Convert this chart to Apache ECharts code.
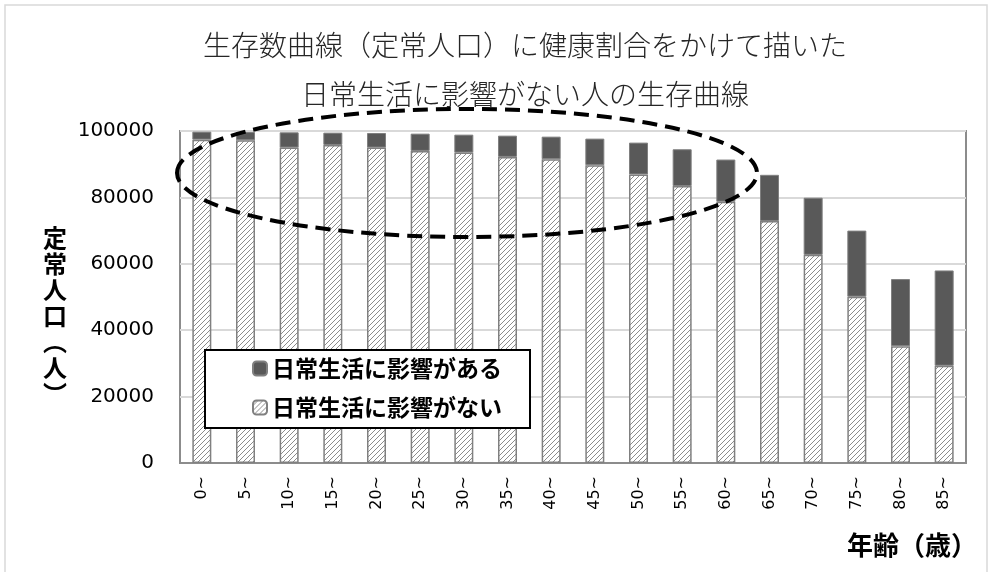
<!DOCTYPE html>
<html>
<head>
<meta charset="utf-8">
<script src="https://cdn.jsdelivr.net/npm/echarts@6/dist/echarts.min.js"></script>
<style>
  html, body { margin: 0; padding: 0; background: #fff; }
  #main { width: 990px; height: 572px; }
</style>
</head>
<body>
<div id="main"></div>
<script>
// 年齢階級
var ages = ["0~", "5~", "10~", "15~", "20~", "25~", "30~", "35~", "40~",
  "45~", "50~", "55~", "60~", "65~", "70~", "75~", "80~", "85~"];
// 定常人口（合計）
var totalPop = [99800, 99700, 99600, 99500, 99400, 99200, 98900, 98600, 98300,
  97700, 96500, 94500, 91400, 86800, 79900, 70000, 55400, 58000];
// 日常生活に影響がない人
var healthyPop = [97400, 97200, 95000, 95800, 95000, 94000, 93500, 92200, 91500,
  89700, 86900, 83400, 78700, 72900, 62700, 50100, 35200, 29300];
// 日常生活に影響がある人 = 合計 - 影響がない
var affectedPop = totalPop.map(function (v, i) { return v - healthyPop[i]; });

var yTicks = [0, 20000, 40000, 60000, 80000, 100000];

// 斜線パターン
function makeHatch() {
  var c = document.createElement("canvas");
  c.width = 5;
  c.height = 5;
  var ctx = c.getContext("2d");
  ctx.fillStyle = "#ffffff";
  ctx.fillRect(0, 0, 5, 5);
  ctx.strokeStyle = "#8c8c8c";
  ctx.lineWidth = 1;
  ctx.beginPath();
  ctx.moveTo(0, 5); ctx.lineTo(5, 0);
  ctx.moveTo(-1, 1); ctx.lineTo(1, -1);
  ctx.moveTo(4, 6); ctx.lineTo(6, 4);
  ctx.stroke();
  return c;
}
var hatch = { image: makeHatch(), repeat: "repeat" };

var fontJP = "'Noto Sans CJK JP', sans-serif";

var myChart = echarts.init(document.getElementById("main"));
myChart.setOption({
  animation: false,
  backgroundColor: "#ffffff",
  title: {
    text: "生存数曲線（定常人口）に健康割合をかけて描いた\n日常生活に影響がない人の生存曲線",
    left: 520,
    top: 16,
    textAlign: "center",
    textStyle: {
      fontFamily: fontJP,
      fontSize: 28,
      fontWeight: 300,
      color: "#262626",
      lineHeight: 49
    }
  },
  legend: {
    orient: "vertical",
    left: 205,
    top: 350,
    data: ["日常生活に影響がある", "日常生活に影響がない"],
    backgroundColor: "#ffffff",
    borderColor: "#000000",
    borderWidth: 2,
    borderRadius: 0,
    padding: [7, 28, 9, 47],
    itemWidth: 14,
    itemHeight: 14,
    itemGap: 16,
    textStyle: {
      fontFamily: fontJP,
      fontSize: 23,
      fontWeight: "bold",
      color: "#000000"
    },
    z: 20
  },
  grid: {
    left: 180,
    right: 24,
    top: 131,
    bottom: 109,
    show: true,
    borderColor: "#8c8c8c",
    borderWidth: 2,
    containLabel: false
  },
  xAxis: {
    type: "category",
    data: ages,
    axisLine: { show: true, lineStyle: { color: "#8c8c8c", width: 2 } },
    axisTick: { show: false },
    axisLabel: {
      interval: 0,
      rotate: 90,
      margin: 13,
      fontFamily: "'DejaVu Sans', sans-serif",
      fontSize: 16,
      color: "#000000"
    }
  },
  yAxis: {
    type: "value",
    min: 0,
    max: 100000,
    interval: 20000,
    axisLine: { show: false },
    axisTick: { show: false },
    splitLine: { show: true, lineStyle: { color: "#d9d9d9", width: 2 } },
    axisLabel: {
      margin: 26,
      fontFamily: "'DejaVu Sans', sans-serif",
      fontSize: 20,
      color: "#000000",
      formatter: function (v) { return yTicks.indexOf(v) >= 0 ? String(v) : ""; }
    }
  },
  series: [
    {
      name: "日常生活に影響がない",
      type: "bar",
      stack: "pop",
      barWidth: 19,
      data: healthyPop,
      itemStyle: { color: hatch, borderColor: "#808080", borderWidth: 1.5 }
    },
    {
      name: "日常生活に影響がある",
      type: "bar",
      stack: "pop",
      barWidth: 19,
      data: affectedPop,
      itemStyle: { color: "#595959", borderColor: "#808080", borderWidth: 1 }
    }
  ],
  graphic: [
    {
      // 外枠
      type: "rect",
      shape: { x: 5, y: 5, width: 982, height: 575 },
      style: { fill: "none", stroke: "#d9d9d9", lineWidth: 1.5 },
      silent: true,
      z: 0
    },
    {
      // 点線の楕円
      type: "ellipse",
      shape: { cx: 467, cy: 173, rx: 290, ry: 64 },
      style: { fill: "none", stroke: "#000000", lineWidth: 4, lineDash: [15, 8] },
      silent: true,
      z: 100
    },
    {
      // 縦軸の名前
      type: "text",
      x: 55,
      y: 316,
      style: {
        text: "定\n常\n人\n口\n︵\n人\n︶",
        fontFamily: fontJP,
        fontSize: 24,
        fontWeight: "bold",
        lineHeight: 26,
        fill: "#000000",
        align: "center",
        verticalAlign: "middle"
      },
      z: 50
    },
    {
      // 横軸の名前
      type: "text",
      x: 977,
      y: 545,
      style: {
        text: "年齢（歳）",
        fontFamily: fontJP,
        fontSize: 26,
        fontWeight: "bold",
        fill: "#000000",
        align: "right",
        verticalAlign: "middle"
      },
      z: 50
    }
  ]
});
</script>
</body>
</html>
